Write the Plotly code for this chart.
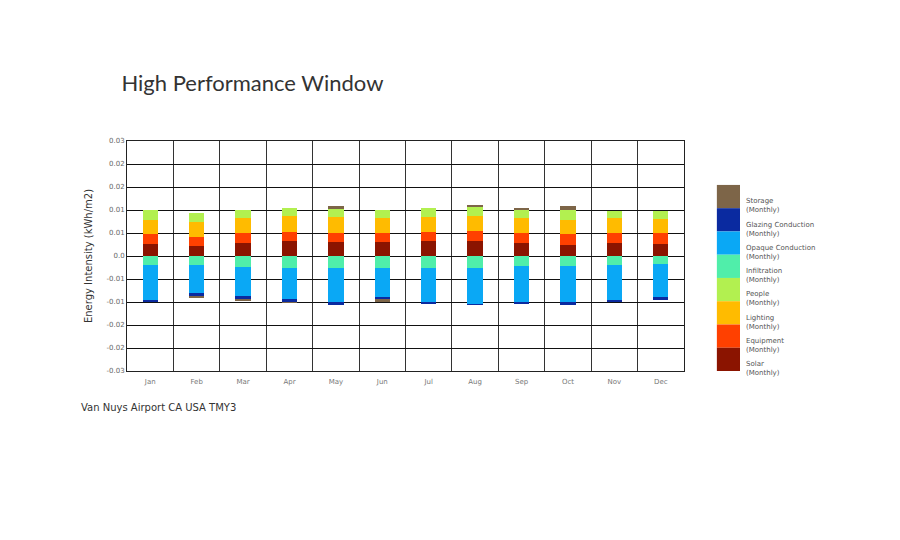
import plotly.graph_objects as go

# energy balance per month, kWh/m2
months = ["Jan", "Feb", "Mar", "Apr", "May", "Jun", "Jul", "Aug", "Sep", "Oct", "Nov", "Dec"]

solar = [0.00257, 0.00207, 0.00293, 0.00329, 0.00300, 0.00300, 0.00321, 0.00336, 0.00293, 0.00243, 0.00293, 0.00271]
equipment = [0.00214, 0.00207, 0.00207, 0.00200, 0.00207, 0.00200, 0.00200, 0.00207, 0.00214, 0.00229, 0.00214, 0.00236]
lighting = [0.00320, 0.00320, 0.00320, 0.00336, 0.00336, 0.00336, 0.00321, 0.00321, 0.00320, 0.00320, 0.00320, 0.00300]
people = [0.00207, 0.00200, 0.00179, 0.00186, 0.00193, 0.00164, 0.00200, 0.00214, 0.00179, 0.00207, 0.00143, 0.00164]
infiltration = [-0.00193, -0.00193, -0.00243, -0.00257, -0.00271, -0.00271, -0.00257, -0.00250, -0.00207, -0.00207, -0.00193, -0.00179]
opaque = [-0.00757, -0.00614, -0.00621, -0.00686, -0.00736, -0.00621, -0.00757, -0.00800, -0.00814, -0.00786, -0.00757, -0.00729]
glazing = [-0.00050, -0.00079, -0.00079, -0.00057, -0.00057, -0.00050, -0.00020, -0.00010, -0.00010, -0.00071, -0.00050, -0.00043]
storage = [0.0, -0.00036, -0.00043, -0.00020, 0.00043, -0.00057, 0.0, 0.00010, 0.00020, 0.00079, 0.0, 0.0]

y_ticks = [-0.025, -0.02, -0.015, -0.01, -0.005, 0, 0.005, 0.01, 0.015, 0.02, 0.025]
y_labels = ["-0.03", "-0.02", "-0.02", "-0.01", "-0.01", "0.0", "0.01", "0.01", "0.02", "0.02", "0.03"]

# stacking order: positives go up from solar, negatives go down from infiltration
series = [
    ("Solar", solar, "#8b1400"),
    ("Equipment", equipment, "#ff4000"),
    ("Lighting", lighting, "#ffbb00"),
    ("People", people, "#b2f050"),
    ("Infiltration", infiltration, "#50eeaa"),
    ("Opaque Conduction", opaque, "#0aa8f5"),
    ("Glazing Conduction", glazing, "#0a2aa0"),
    ("Storage", storage, "#7d6548"),
]

fig = go.Figure()
for name, vals, col in series:
    fig.add_trace(go.Bar(x=months, y=vals, name=name, marker_color=col,
                         marker_line_width=0, width=0.33, showlegend=False))

# legend drawn as a column of colour blocks, top to bottom
legend_order = ["Storage", "Glazing Conduction", "Opaque Conduction", "Infiltration",
                "People", "Lighting", "Equipment", "Solar"]
colors = {n: c for n, _, c in series}
blk = 0.809 / len(legend_order)
for i, name in enumerate(legend_order):
    top = 0.809 - i * blk
    fig.add_shape(type="rect", xref="paper", yref="paper",
                  x0=1.059, x1=1.1005, y0=top - blk, y1=top,
                  fillcolor=colors[name], line_width=0)
    fig.add_annotation(xref="paper", yref="paper", x=1.108, y=top - blk * 0.9,
                       text=name + "<br>(Monthly)", showarrow=False,
                       xanchor="left", yanchor="middle", align="left",
                       font=dict(family="DejaVu Sans", size=7, color="#555"))

fig.add_annotation(xref="paper", yref="paper", x=-0.086, y=-0.16,
                   text="Van Nuys Airport CA USA TMY3", showarrow=False,
                   xanchor="left", yanchor="middle",
                   font=dict(family="DejaVu Sans", size=10, color="#333"))

fig.update_layout(
    width=900, height=540,
    barmode="relative", bargap=0,
    plot_bgcolor="white", paper_bgcolor="white",
    margin=dict(l=119, r=224, t=133, b=177),
    title=dict(text="High Performance Window", xref="container", yref="container",
               x=0.126, y=0.861, xanchor="left", yanchor="middle",
               font=dict(family="Lato", size=22, color="#333")),
    font=dict(family="DejaVu Sans", color="#666"),
)
fig.update_xaxes(type="category", tickson="boundaries", showgrid=True,
                 gridcolor="#333", gridwidth=1, showline=True, linecolor="#222",
                 linewidth=1, mirror=True, ticks="", ticklabelstandoff=4,
                 tickfont=dict(size=7, color="#777"))
fig.update_yaxes(range=[-0.025, 0.025], tickvals=y_ticks, ticktext=y_labels,
                 showgrid=True, gridcolor="#111", gridwidth=1, zeroline=False,
                 showline=True, linecolor="#222", linewidth=1, mirror=True,
                 tickfont=dict(size=7, color="#666"),
                 title=dict(text="Energy Intensity (kWh/m2)", standoff=11,
                            font=dict(size=10, color="#333")))

fig.write_html("out.html")
